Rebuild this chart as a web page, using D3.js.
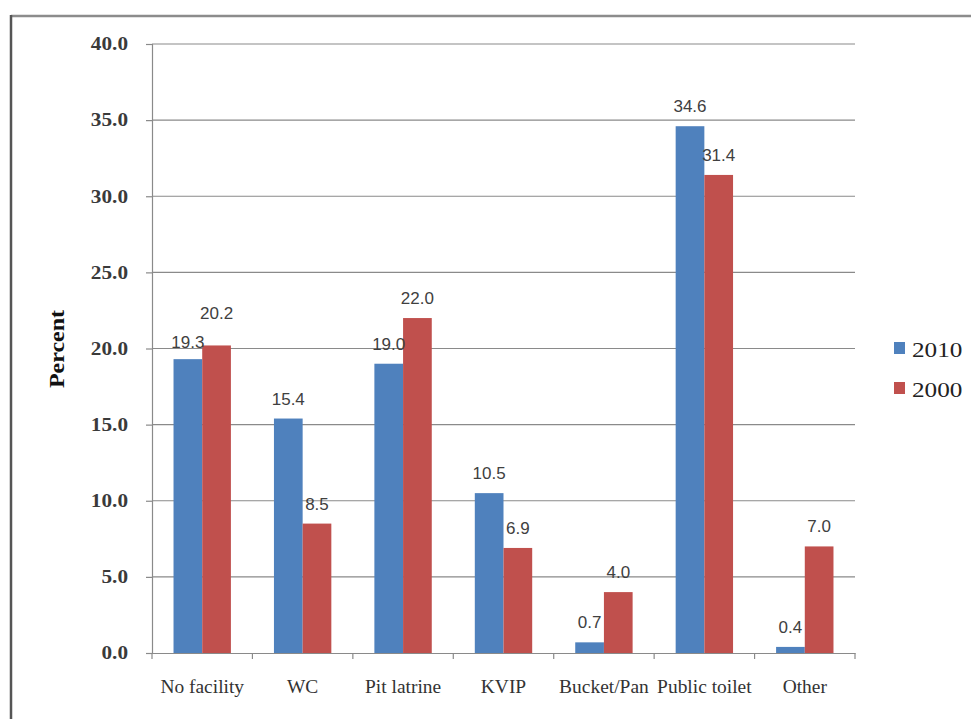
<!DOCTYPE html>
<html>
<head>
<meta charset="utf-8">
<script src="https://cdn.jsdelivr.net/npm/d3@7"></script>
<style>
  html, body { margin: 0; padding: 0; background: #fff; }
  svg { display: block; }
</style>
</head>
<body>
<svg id="chart" width="971" height="719"></svg>
<script>
const categories = ["No facility", "WC", "Pit latrine", "KVIP", "Bucket/Pan", "Public toilet", "Other"];
const seriesNames = ["2010", "2000"];
const values2010 = [19.3, 15.4, 19.0, 10.5, 0.7, 34.6, 0.4];
const values2000 = [20.2, 8.5, 22.0, 6.9, 4.0, 31.4, 7.0];
const yTicks = [0, 5, 10, 15, 20, 25, 30, 35, 40];
const colors = ["#4F81BD", "#C0504D"];

const svg = d3.select("#chart");
const W = 971, H = 719;
const plot = { left: 152, right: 855, top: 44, bottom: 653 };
const serif = "'Liberation Serif', 'Times New Roman', serif";

function stretch(sel, factor) {
  sel.each(function() {
    const n = this.getComputedTextLength();
    d3.select(this).attr("textLength", n * factor).attr("lengthAdjust", "spacingAndGlyphs");
  });
}

// outer frame (top and left edges visible)
svg.append("line").attr("x1", 11).attr("x2", W).attr("y1", 16).attr("y2", 16)
  .attr("stroke", "#8c8c8c").attr("stroke-width", 2.5);
svg.append("line").attr("x1", 11).attr("x2", 11).attr("y1", 15).attr("y2", H)
  .attr("stroke", "#555").attr("stroke-width", 2.5);

const x = d3.scaleBand().domain(categories).range([plot.left, plot.right]).padding(0);
const y = d3.scaleLinear().domain([0, 40]).range([plot.bottom, plot.top]);
const bw = x.bandwidth();
const barW = bw / 3.5;
const gap = barW * 0.75;

// gridlines
svg.append("g").selectAll("line").data(yTicks.filter(d => d > 0)).join("line")
  .attr("x1", plot.left).attr("x2", plot.right)
  .attr("y1", d => y(d)).attr("y2", d => y(d))
  .attr("stroke", "#8a8a8a").attr("stroke-width", 1.2);

// y axis
const yAxis = d3.axisLeft(y).tickValues(yTicks).tickFormat(d3.format(".1f")).tickSize(6).tickPadding(18);
const gy = svg.append("g").attr("transform", `translate(${plot.left},0)`).call(yAxis);
gy.select(".domain").attr("stroke", "#8a8a8a").attr("stroke-width", 1.2);
gy.selectAll(".tick line").attr("stroke", "#8a8a8a").attr("stroke-width", 1.2);
gy.selectAll(".tick text").attr("font-family", serif)
  .attr("font-size", 18).attr("font-weight", "bold").attr("fill", "#3a3a3a");
stretch(gy.selectAll(".tick text"), 1.18);

// y title
const yt = svg.append("text").attr("transform", `translate(64,${349}) rotate(-90)`)
  .attr("text-anchor", "middle").attr("font-family", serif)
  .attr("font-size", 20).attr("font-weight", "bold").attr("fill", "#111").text("Percent");
stretch(yt, 1.2);

// bars
const rows = categories.map((c, i) => ({ cat: c, vals: [values2010[i], values2000[i]] }));
const groups = svg.append("g").selectAll("g").data(rows).join("g")
  .attr("transform", d => `translate(${x(d.cat)},0)`);
groups.selectAll("rect").data(d => d.vals).join("rect")
  .attr("x", (d, j) => gap + j * barW)
  .attr("width", barW)
  .attr("y", d => y(d))
  .attr("height", d => y(0) - y(d))
  .attr("fill", (d, j) => colors[j]);

// data labels with simple collision avoidance
groups.each(function(d) {
  const g = d3.select(this);
  let pos = d.vals.map(v => y(v) - 14);
  if (Math.abs(pos[0] - pos[1]) < 18) {
    const hi = pos[0] < pos[1] ? 0 : 1;
    const lo = 1 - hi;
    pos[lo] += 3;
    pos[hi] = pos[lo] - 29;
  }
  d.vals.forEach((v, j) => {
    g.append("text")
      .attr("x", gap + j * barW + barW / 2)
      .attr("y", pos[j])
      .attr("text-anchor", "middle")
      .attr("font-family", "'Liberation Sans', Arial, sans-serif")
      .attr("font-size", 17).attr("fill", "#404040")
      .text(d3.format(".1f")(v));
  });
});

// x axis
const xAxis = d3.axisBottom(x).tickSize(0).tickPadding(27);
const gx = svg.append("g").attr("transform", `translate(0,${plot.bottom})`).call(xAxis);
gx.select(".domain").attr("stroke", "#8a8a8a").attr("stroke-width", 1.2);
gx.selectAll(".tick text").attr("font-family", serif)
  .attr("font-size", 18).attr("fill", "#333");
stretch(gx.selectAll(".tick text"), 1.08);
// category boundary ticks
svg.append("g").selectAll("line").data(d3.range(categories.length + 1)).join("line")
  .attr("x1", i => plot.left + i * bw).attr("x2", i => plot.left + i * bw)
  .attr("y1", plot.bottom).attr("y2", plot.bottom + 6)
  .attr("stroke", "#8a8a8a").attr("stroke-width", 1.2);

// legend
const leg = svg.append("g").selectAll("g").data(seriesNames).join("g")
  .attr("transform", (d, i) => `translate(894,${342 + i * 40})`);
leg.append("rect").attr("width", 11).attr("height", 12).attr("fill", (d, i) => colors[i]);
const lt = leg.append("text").attr("x", 18).attr("y", 15)
  .attr("font-family", serif)
  .attr("font-size", 21).attr("fill", "#222").text(d => d);
stretch(lt, 1.2);
</script>
</body>
</html>
